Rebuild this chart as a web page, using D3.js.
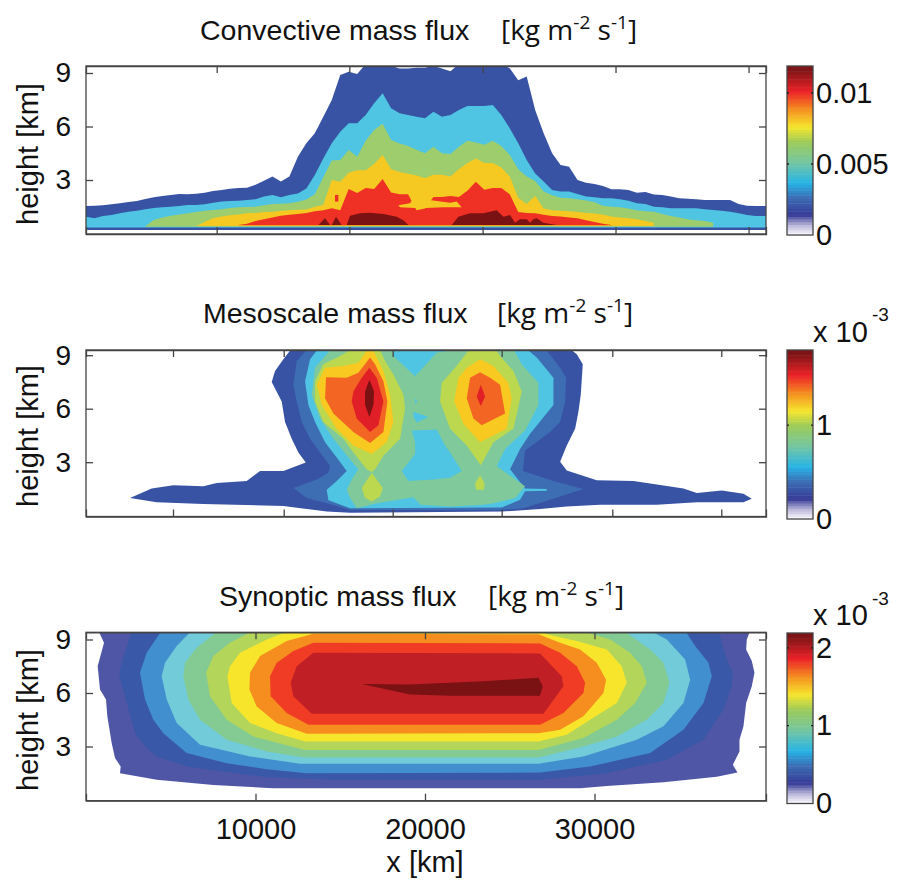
<!DOCTYPE html>
<html>
<head>
<meta charset="utf-8">
<script src="https://cdn.jsdelivr.net/npm/d3@7"></script>
<style>
	html, body { margin: 0; padding: 0; background: #fff; }
	text { font-family: "Liberation Sans", Arial, sans-serif; fill: #111; }
	.units { font-family: "Open Sans", sans-serif; }
</style>
</head>
<body>
<svg id="chart" width="899" height="882"></svg>
<script>
// x position of the convective band tops, km
const convX = d3.range(0, 41000, 500);

// convective panel: top of every contour band in km (null = band absent)
const convBlueTop = [1.54,1.56,1.58,1.64,1.69,1.77,1.82,1.93,2.03,2.10,2.16,2.21,2.20,2.23,2.29,2.38,2.44,2.51,2.55,2.57,2.74,2.96,3.19,2.91,3.19,4.31,5.06,5.62,6.55,7.49,8.89,9.07,8.94,9.5,9.5,9.5,9.4,9.25,9.25,9.3,9.3,9.4,9.25,9.1,9.5,9.5,9.5,9.5,9.5,9.5,9.26,8.6,8.8,6.93,5.62,4.5,3.84,3.75,3.0,2.85,2.78,2.66,2.48,2.48,2.44,2.29,2.33,2.18,2.16,2.07,1.97,1.95,1.92,1.88,1.88,1.88,1.88,1.65,1.56,1.54,1.54,1.54];
const convCyanTop = [0.94,0.85,0.98,1.04,1.13,1.22,1.28,1.36,1.43,1.47,1.50,1.54,1.6,1.6,1.64,1.73,1.79,1.82,1.84,1.88,1.92,2.07,2.16,2.03,2.16,2.25,2.53,3.28,4.21,5.06,5.71,6.18,6.18,6.64,7.3,7.86,7.02,6.74,6.64,6.55,6.46,6.83,6.55,6.64,6.93,7.15,7.15,7.15,7.2,6.64,5.9,5.06,4.12,3.37,2.91,2.44,2.35,2.35,2.21,2.07,2.03,1.97,1.97,1.92,1.84,1.69,1.65,1.5,1.47,1.41,1.41,1.41,1.41,1.36,1.32,1.28,1.22,1.13,1.04,0.98,0.98,0.98];
const convGreenTop = [null,null,null,null,null,null,null,0.40,0.76,0.9,1.0,1.07,1.13,1.2,1.28,1.32,1.36,1.43,1.47,1.49,1.50,1.58,1.65,1.67,1.69,1.78,1.9,2.2,3.15,4.1,4.12,4.68,4.31,5.2,5.8,6.15,5.24,5.05,4.9,4.7,4.5,4.87,4.5,4.46,4.87,5.2,5.1,4.98,5.2,4.9,4.4,3.6,3.2,2.95,2.35,2.15,2.0,1.97,1.92,1.85,1.75,1.55,1.5,1.47,1.4,1.3,1.25,1.22,1.1,0.98,0.9,0.8,0.75,0.7,0.6,null,null,null,null,null,null,null];
const convYellowTop = [null,null,null,null,null,null,null,null,null,null,null,null,null,0.4,0.65,0.85,0.95,1.03,1.07,1.13,1.15,1.2,1.22,1.27,1.3,1.33,1.35,1.5,1.6,3.0,2.9,3.4,3.55,3.55,3.9,4.4,3.6,3.45,3.35,3.25,3.1,3.3,3.3,3.2,3.6,3.95,4.2,3.95,3.95,3.7,3.2,2.0,1.65,2.1,1.4,1.3,1.27,1.25,1.2,1.15,1.12,1.05,0.95,0.9,0.85,0.8,0.7,0.6,null,null,null,null,null,null,null,null,null,null,null,null,null,null];
const convRedTop = [null,null,null,null,null,null,null,null,null,null,null,null,null,null,null,null,null,null,0.47,0.55,0.7,0.8,0.9,1.0,1.05,1.1,1.15,1.25,1.3,1.42,1.3,2.5,2.27,2.55,2.5,3.05,2.3,2.2,2.2,1.3,1.4,2.05,2.05,2.1,2.05,2.4,2.9,2.45,2.55,2.55,2.2,1.2,1.15,1.13,1.05,0.98,0.95,0.9,0.85,0.75,0.65,0.55,0.47,null,null,null,null,null,null,null,null,null,null,null,null,null,null,null,null,null,null,null];
const convDarkX = [13707,14100,14396,14494,14750,15084,15379,15576,16166,16756,17543,18330,18723,19018,21575,21968,22657,23444,24230,24624,25017,25312,25607,26000,26200,26395,26590,26985,27770];
const convDarkTop = [0.48,0.85,0.48,0.48,0.94,0.48,0.48,1.0,1.13,1.17,1.1,0.94,0.75,0.48,0.48,0.94,1.13,1.13,1.3,0.94,1.04,0.6,0.8,0.8,0.6,0.8,0.85,0.6,0.48];
// lower edge of each convective band, km
const convBottoms = [0.19, 0.33, 0.38, 0.42, 0.46];
const convDarkBottom = 0.48;
// yellow pocket inside the red core and red speck inside the yellow
const convYellowPocket = [[18428,1.58],[19116,1.69],[19313,1.97],[20198,2.07],[20257,1.88],[21477,1.73],[21870,1.79],[22165,1.47],[21083,1.47],[19707,1.41],[18526,1.47]];
const convRedSpeck = [[14690,2.16],[14890,2.16],[14890,1.79],[14690,1.79]];

// mesoscale panel: contour outlines as [x km, height km]
const mesoBlue1 = [[12235,9.5],[11645,8.77],[11153,8.11],[10956,7.5],[11546,6.4],[11743,5.26],[12136,4.31],[12530,3.55],[12963,2.98],[11645,2.51],[10268,2.51],[9481,1.94],[7711,1.84],[6924,1.65],[5154,1.71],[3875,1.52],[2596,0.99],[4170,0.76],[6924,0.65],[11645,0.55],[14202,0.23],[15579,0.17],[24528,0.23],[26790,0.38],[28364,0.51],[30331,0.61],[33675,0.61],[36035,0.76],[38789,0.76],[39281,0.95],[38789,1.23],[37511,1.42],[36035,1.27],[35249,1.52],[32298,1.94],[30134,1.99],[28364,2.54],[27971,3.02],[28364,3.93],[28856,4.88],[29052,5.83],[29190,6.78],[29308,8.49],[28954,9.06],[28364,9.5]];
const mesoBlue2 = [[13218,9.5],[12431,8.68],[12235,7.35],[12431,6.4],[12726,5.26],[13218,4.31],[13808,3.55],[14398,2.79],[14300,2.41],[13612,2.03],[12235,1.56],[13022,0.99],[14202,0.7],[15579,0.32],[24430,0.32],[25807,0.42],[27381,0.89],[29348,1.5],[27577,1.94],[25768,2.51],[25905,3.65],[27381,4.69],[27971,5.26],[28266,6.4],[28325,7.73],[27971,8.3],[26987,9.5]];
const mesoCyan = [[13808,9.5],[13218,8.77],[12923,7.54],[13120,6.21],[13513,5.26],[14103,4.12],[14792,3.27],[15382,2.51],[14792,1.94],[14202,1.46],[14300,0.87],[15579,0.42],[24528,0.46],[25610,0.89],[25905,1.37],[27184,1.4],[27184,1.5],[25905,1.52],[25020,2.6],[25610,3.74],[26200,4.59],[27577,6.21],[27577,7.73],[26594,8.87],[25807,9.5]];
const mesoTeal = [[14595,9.5],[13513,8.3],[13317,6.78],[13808,5.45],[14595,4.31],[15579,3.17],[16070,2.6],[15677,2.03],[15382,1.46],[15579,0.99],[15972,0.42],[17152,0.7],[19316,1.04],[19749,0.61],[21480,0.51],[23447,0.61],[24037,0.7],[25315,0.99],[25905,1.65],[24627,2.51],[24233,2.79],[24725,3.74],[25905,4.78],[26692,6.21],[26692,7.44],[25708,8.49],[25118,9.5],[22070,9.5],[21480,9.25],[20693,9.15],[19414,7.82],[18136,8.96],[18096,9.5]];
const mesoCyanCentre = [[19217,4.78],[20693,4.84],[21185,3.93],[21480,3.55],[22168,2.51],[21480,2.13],[20497,2.03],[19021,1.94],[18628,2.51],[19414,3.46],[19414,4.12]];
const mesoCyanDot = [[19414,6.59],[19552,6.4],[19414,6.25]];
const mesoCyanWedge = [[19316,5.83],[20201,5.54],[19512,5.22],[19316,5.54]];
const mesoLimeLeft = [[15972,9.5],[14989,8.96],[14005,8.49],[13513,7.54],[13513,6.4],[14005,5.26],[15185,4.31],[15775,3.55],[16562,2.6],[16857,2.45],[17054,2.6],[17546,3.36],[18529,4.31],[18824,6.02],[18726,6.78],[18136,7.92],[17644,8.68],[17251,9.5]];
const mesoLimeLow = [[16857,2.41],[16267,1.56],[16464,0.99],[16857,0.8],[17349,1.08],[17506,1.56]];
const mesoYellowLeft = [[16660,9.38],[16070,8.58],[15185,8.39],[14103,8.3],[13612,7.35],[13907,6.21],[14792,4.88],[15775,3.93],[16857,3.46],[17742,4.12],[18136,5.26],[17939,6.78],[17546,8.11],[16956,9.25]];
const mesoOrangeLeft = [[16759,8.87],[16070,8.01],[15382,7.73],[14162,7.77],[14103,6.59],[14595,5.73],[15775,4.69],[16759,4.08],[17546,4.69],[17782,6.4],[17546,7.54],[17054,8.49]];
const mesoRedLeft = [[16720,8.3],[16267,7.73],[15775,6.97],[15677,6.4],[15972,5.45],[16759,4.69],[17251,5.07],[17546,6.4],[17152,7.73]];
const mesoDarkLeft = [[16720,7.63],[16464,6.97],[16464,6.21],[16720,5.54],[16956,6.21],[16995,6.97]];
const mesoLimeRight = [[23250,9.5],[22562,9.25],[21775,8.3],[20988,7.44],[20889,6.4],[21480,4.88],[22463,3.93],[23289,2.83],[24037,4.12],[25217,4.88],[25708,6.97],[25217,8.11],[24430,8.96],[24037,9.5]];
const mesoLimeLowRight = [[23250,2.26],[22955,1.84],[23014,1.46],[23486,1.46],[23506,1.84]];
const mesoYellowRight = [[23250,8.77],[22463,8.3],[21972,7.73],[21716,6.4],[22266,5.16],[23250,4.12],[24823,4.88],[25118,6.59],[24922,7.44],[24037,8.39]];
const mesoOrangeRight = [[23250,8.05],[22660,7.73],[22463,6.59],[22857,5.45],[23348,5.07],[24725,5.73],[24430,7.35],[23840,7.73]];
const mesoRedRight = [[23289,7.35],[23053,6.68],[23289,6.15],[23545,6.68]];

// synoptic panel: nested contour outlines as [x km, height km]
const synPurple = [[728,9.5],[1062,8.82],[688,7.5],[826,6.19],[1180,5.63],[1259,4.69],[1515,3.19],[1711,2.35],[2046,1.88],[2006,1.5],[4170,1.13],[7514,0.84],[11055,0.66],[29151,0.66],[30725,0.79],[34068,0.99],[37216,1.31],[38435,1.54],[38160,1.97],[38553,2.72],[38553,3.38],[38789,4.13],[38947,5.44],[39281,6.38],[39438,7.13],[39281,7.79],[38947,8.44],[38986,9.0],[39183,9.5]];
const synBlue = [[2695,9.5],[2046,7.5],[1967,6.94],[2400,5.44],[2892,3.75],[3580,2.91],[4170,2.44],[5940,1.88],[8104,1.59],[10661,1.28],[14595,1.13],[26790,1.13],[30725,1.5],[34265,2.25],[36429,3.38],[37609,5.07],[38101,6.38],[38160,7.13],[37806,7.88],[37314,9.5]];
const synMidBlue = [[4465,9.5],[3580,8.26],[3187,7.13],[3482,5.63],[3973,4.5],[4563,3.75],[5940,2.63],[8301,2.06],[10661,1.73],[13022,1.5],[26790,1.54],[29741,1.88],[33282,2.63],[35249,3.94],[36429,5.44],[36921,6.94],[36724,7.69],[35937,8.63],[35347,9.5]];
const synTeal = [[6235,9.5],[5350,8.63],[4662,7.69],[4465,6.94],[4760,5.63],[5350,4.32],[6727,3.1],[9678,2.44],[12628,2.03],[26692,2.03],[29348,2.44],[32495,3.38],[34068,4.13],[35249,5.44],[35643,6.75],[35347,7.88],[34265,9.0],[33282,9.5]];
const synGreen = [[7809,9.5],[6530,8.54],[5842,7.69],[5744,6.94],[6039,5.63],[6727,4.5],[8301,3.38],[10661,2.72],[12923,2.38],[26692,2.38],[29348,3.0],[31315,3.56],[33085,4.5],[34068,5.44],[34423,6.57],[34068,7.69],[33282,8.44],[31708,9.5]];
const synLime = [[9874,9.5],[8497,8.82],[7514,8.07],[7081,7.13],[7317,5.82],[8301,4.5],[9874,3.56],[12923,2.81],[26692,2.81],[29348,3.47],[31315,4.5],[32396,5.44],[33085,6.57],[32790,7.5],[32101,8.26],[30921,9.0],[29151,9.5]];
const synYellow = [[12038,9.5],[10661,9.0],[9088,8.26],[8497,7.5],[8340,6.94],[8596,5.44],[9678,4.32],[11251,3.75],[12923,3.28],[26692,3.28],[28364,3.66],[29741,4.5],[31315,5.44],[31905,6.57],[31610,7.5],[30725,8.44],[28954,8.91],[27184,9.29],[26790,9.5]];
const synOrange = [[13415,9.32],[11841,8.91],[10268,8.07],[9678,7.13],[9638,6.19],[10071,5.25],[11251,4.32],[13022,3.71],[26692,3.75],[27971,3.94],[29348,4.69],[30528,6.0],[30685,6.75],[30134,7.69],[29151,8.44],[27971,8.82],[26692,9.29]];
const synRedOrange = [[13415,8.82],[12235,8.35],[11251,7.69],[10858,6.94],[10897,5.82],[11841,4.88],[13120,4.22],[26790,4.22],[28167,4.88],[29348,6.0],[29446,6.57],[28954,7.5],[27971,8.26],[26790,8.78]];
const synCrimson = [[13415,8.26],[12431,7.5],[12077,6.57],[12235,5.82],[13317,4.84],[26987,4.84],[28167,6.38],[28069,6.94],[26790,8.22]];
const synDark = [[16267,6.51],[19119,5.91],[21480,5.85],[26790,5.85],[26948,6.38],[26692,6.85],[23447,6.66],[19119,6.47]];

// axes: tick values
const heightTicks = [3, 6, 9];
const convXTicks = [7710, 15535, 23400, 31240, 39090];
const mesoXTicks = [5133, 11664, 18094, 24525, 31050, 37480];
const synXTicks = [10000, 20000, 30000];

// colour bars
const barStops = [0, 0.06, 0.12, 0.22, 0.31, 0.43, 0.55, 0.64, 0.75, 0.85, 0.98, 1];
const barColors = ["#ffffff", "#b9b6da", "#373b96", "#3b6cb3", "#27b4e6", "#74c6a2", "#9ccb5a", "#f5e62d", "#f58a1f", "#ec2227", "#7d1416", "#7d1416"];
const convBarTicks = [0, 0.005, 0.01];
const convBarLabels = ["0", "0.005", "0.01"];
const mesoBarTicks = [0, 1];
const synBarTicks = [0, 1, 2];

const svg = d3.select("#chart");
const xLeft = 86, xRight = 766;
const kmScale = d3.scaleLinear().domain([0, 40118]).range([xLeft, xRight]);

function makePanel(id, top, bottom, y0, xTicks) {
	const y = d3.scaleLinear().domain([0, (y0 - top) / ((y0 - (y0 - 160.5)) / 9)]).range([y0, top]);
	svg.append("clipPath").attr("id", "clip-" + id)
		.append("rect")
		.attr("x", xLeft).attr("y", top)
		.attr("width", xRight - xLeft).attr("height", bottom - top);
	const plot = svg.append("g").attr("clip-path", `url(#clip-${id})`);
	return { id, top, bottom, y, xTicks, plot };
}

function drawFrame(p) {
	const color = "#444";
	const xFn = [d3.axisBottom, d3.axisTop];
	xFn.forEach((fn, i) => {
		const g = svg.append("g")
			.attr("transform", `translate(0,${i === 0 ? p.bottom : p.top})`)
			.call(fn(kmScale).tickValues(p.xTicks).tickSize(-7).tickFormat(""));
		g.selectAll("path,line").attr("stroke", color).attr("stroke-width", 1.3);
	});
	const yNoBottom = d3.scaleLinear().domain(p.y.domain()).range([p.bottom - (p.bottom - p.y(0)), p.top]);
	const left = svg.append("g").attr("transform", `translate(${xLeft},0)`)
		.call(d3.axisLeft(yNoBottom).tickValues(heightTicks).tickSize(-7).tickSizeOuter(0).tickPadding(15));
	const right = svg.append("g").attr("transform", `translate(${xRight},0)`)
		.call(d3.axisRight(yNoBottom).tickValues(heightTicks).tickSize(-7).tickSizeOuter(0).tickFormat(""));
	[left, right].forEach(g => {
		g.selectAll("line").attr("stroke", color).attr("stroke-width", 1.3);
		g.select("path").remove();
	});
	left.selectAll("text").attr("font-size", 28).attr("fill", "#111").attr("font-family", "Liberation Sans");
	// outer box
	svg.append("rect")
		.attr("x", xLeft).attr("y", p.top)
		.attr("width", xRight - xLeft).attr("height", p.bottom - p.top)
		.attr("fill", "none").attr("stroke", color).attr("stroke-width", 1.3);
}

function polygons(p, shapes) {
	const line = d3.line().x(d => kmScale(d[0])).y(d => p.y(d[1])).curve(d3.curveLinearClosed);
	p.plot.selectAll("path.c")
		.data(shapes, (d, i) => i)
		.enter()
		.append("path")
		.attr("d", d => line(d.pts))
		.attr("fill", d => d.color);
}

function bandArea(p, xs, tops, bottom, color) {
	const area = d3.area()
		.defined(d => d.top !== null)
		.x(d => kmScale(d.x))
		.y0(p.y(bottom))
		.y1(d => p.y(d.top));
	p.plot.append("path")
		.datum(xs.map((x, i) => ({ x: x, top: tops[i] })))
		.attr("d", area)
		.attr("fill", color);
}

function titleText(xTitle, xUnits, base, label) {
	svg.append("text").attr("x", xTitle).attr("y", base).attr("font-size", 28.5).attr("textLength", null).text(label);
	const t = svg.append("text").attr("class", "units").attr("x", xUnits).attr("y", base).attr("font-size", 28);
	t.append("tspan").text("[kg m");
	t.append("tspan").attr("dy", -11).attr("font-size", 19).text("-2");
	t.append("tspan").attr("dy", 11).text(" s");
	t.append("tspan").attr("dy", -11).attr("font-size", 19).text("-1");
	t.append("tspan").attr("dy", 11).text("]");
}

function heightLabel(cy) {
	svg.append("text")
		.attr("transform", `translate(38,${cy}) rotate(-90)`)
		.attr("text-anchor", "middle")
		.attr("font-size", 29)
		.text("height [km]");
}

function colorBar(top, bottom, zeroY, domainMax, ticks, labels) {
	const x0 = 787, x1 = 813;
	const barScale = d3.scaleLinear().domain([0, domainMax]).range([zeroY, top]);
	const cmap = d3.scaleLinear().domain(barStops).range(barColors);
	const cells = d3.range(64);
	const cellH = (bottom - top) / 64;
	svg.append("g").selectAll("rect")
		.data(cells)
		.enter()
		.append("rect")
		.attr("x", x0).attr("width", x1 - x0)
		.attr("y", d => bottom - (d + 1) * cellH)
		.attr("height", cellH + 0.5)
		.attr("fill", d => cmap((d + 0.5) / 64));
	svg.append("rect")
		.attr("x", x0).attr("y", top).attr("width", x1 - x0).attr("height", bottom - top)
		.attr("fill", "none").attr("stroke", "#444").attr("stroke-width", 1.3);
	const ax = svg.append("g").attr("transform", `translate(${x1},0)`)
		.call(d3.axisRight(barScale).tickValues(ticks).tickSize(0).tickPadding(3).tickFormat((d, i) => labels[i]));
	ax.select("path").remove();
	ax.selectAll("text").attr("font-size", 29).attr("fill", "#111").attr("font-family", "Liberation Sans");
	svg.append("g").selectAll("line")
		.data(ticks.filter(d => d > 0))
		.enter()
		.append("line")
		.attr("x1", x0).attr("x2", x0 + 2)
		.attr("y1", d => barScale(d)).attr("y2", d => barScale(d))
		.attr("stroke", "#222").attr("stroke-width", 1.3);
	svg.append("g").selectAll("line")
		.data(ticks.filter(d => d > 0))
		.enter()
		.append("line")
		.attr("x1", x1 - 2).attr("x2", x1)
		.attr("y1", d => barScale(d)).attr("y2", d => barScale(d))
		.attr("stroke", "#222").attr("stroke-width", 1.3);
}

function exponent(base, expBase) {
	svg.append("text").attr("x", 813).attr("y", base).attr("font-size", 29).text("x 10");
	svg.append("text").attr("x", 872).attr("y", expBase).attr("font-size", 19).attr("fill", "#444").text("-3");
}

// ---- convective ----
const conv = makePanel("conv", 66, 234, 233.5, convXTicks);
const convBands = [
	[convBlueTop, "#3853a4"],
	[convCyanTop, "#4fc5e3"],
	[convGreenTop, "#9dcd6d"],
	[convYellowTop, "#f6c922"],
	[convRedTop, "#ee3124"]
];
convBands.forEach((b, i) => bandArea(conv, convX, b[0], convBottoms[i], b[1]));
polygons(conv, [
	{ pts: convYellowPocket, color: "#f6c922" },
	{ pts: convRedSpeck, color: "#ee3124" }
]);
bandArea(conv, convDarkX, convDarkTop, convDarkBottom, "#7a1113");
drawFrame(conv);

// ---- mesoscale ----
const meso = makePanel("meso", 350, 516.5, 515.7, mesoXTicks);
polygons(meso, [
	{ pts: mesoBlue1, color: "#3853a4" },
	{ pts: mesoBlue2, color: "#3d6db3" },
	{ pts: mesoCyan, color: "#4fc5e3" },
	{ pts: mesoTeal, color: "#80c99a" },
	{ pts: mesoCyanCentre, color: "#4fc5e3" },
	{ pts: mesoCyanDot, color: "#4fc5e3" },
	{ pts: mesoCyanWedge, color: "#4fc5e3" },
	{ pts: mesoLimeLeft, color: "#bcd84e" },
	{ pts: mesoLimeLow, color: "#bcd84e" },
	{ pts: mesoLimeRight, color: "#bcd84e" },
	{ pts: mesoLimeLowRight, color: "#bcd84e" },
	{ pts: mesoYellowLeft, color: "#f7c921" },
	{ pts: mesoYellowRight, color: "#f7c921" },
	{ pts: mesoOrangeLeft, color: "#f26522" },
	{ pts: mesoOrangeRight, color: "#f26522" },
	{ pts: mesoRedLeft, color: "#e11f26" },
	{ pts: mesoRedRight, color: "#e11f26" },
	{ pts: mesoDarkLeft, color: "#7a1113" }
]);
drawFrame(meso);

// ---- synoptic ----
const syn = makePanel("syn", 632.3, 800.7, 800, synXTicks);
polygons(syn, [
	{ pts: synPurple, color: "#5056a6" },
	{ pts: synBlue, color: "#3a58a8" },
	{ pts: synMidBlue, color: "#428fcf" },
	{ pts: synTeal, color: "#72cbd9" },
	{ pts: synGreen, color: "#83cb92" },
	{ pts: synLime, color: "#b2d55a" },
	{ pts: synYellow, color: "#f7e52c" },
	{ pts: synOrange, color: "#f68e1f" },
	{ pts: synRedOrange, color: "#f03c24" },
	{ pts: synCrimson, color: "#c11f26" },
	{ pts: synDark, color: "#7a1113" }
]);
drawFrame(syn);
svg.append("g").attr("transform", `translate(0,${syn.bottom})`)
	.call(d3.axisBottom(kmScale).tickValues(synXTicks).tickSize(0).tickPadding(18).tickFormat(d3.format("d")))
	.call(g => g.select("path").remove())
	.selectAll("text").attr("font-size", 29).attr("fill", "#111").attr("font-family", "Liberation Sans");

// ---- text ----
titleText(200, 501, 39.5, "Convective mass flux");
titleText(203, 497, 323, "Mesoscale mass flux");
titleText(219, 488, 606, "Synoptic mass flux");
heightLabel(154);
heightLabel(436);
heightLabel(720);
svg.append("text").attr("x", 425).attr("y", 872).attr("text-anchor", "middle").attr("font-size", 29).text("x [km]");

colorBar(66, 235, 235, 0.0119, convBarTicks, convBarLabels);
colorBar(350, 519, 519, 1.8, mesoBarTicks, ["0", "1"]);
colorBar(633, 803.5, 803.5, 2.19, synBarTicks, ["0", "1", "2"]);
exponent(342, 321);
exponent(625, 605);
</script>
</body>
</html>
